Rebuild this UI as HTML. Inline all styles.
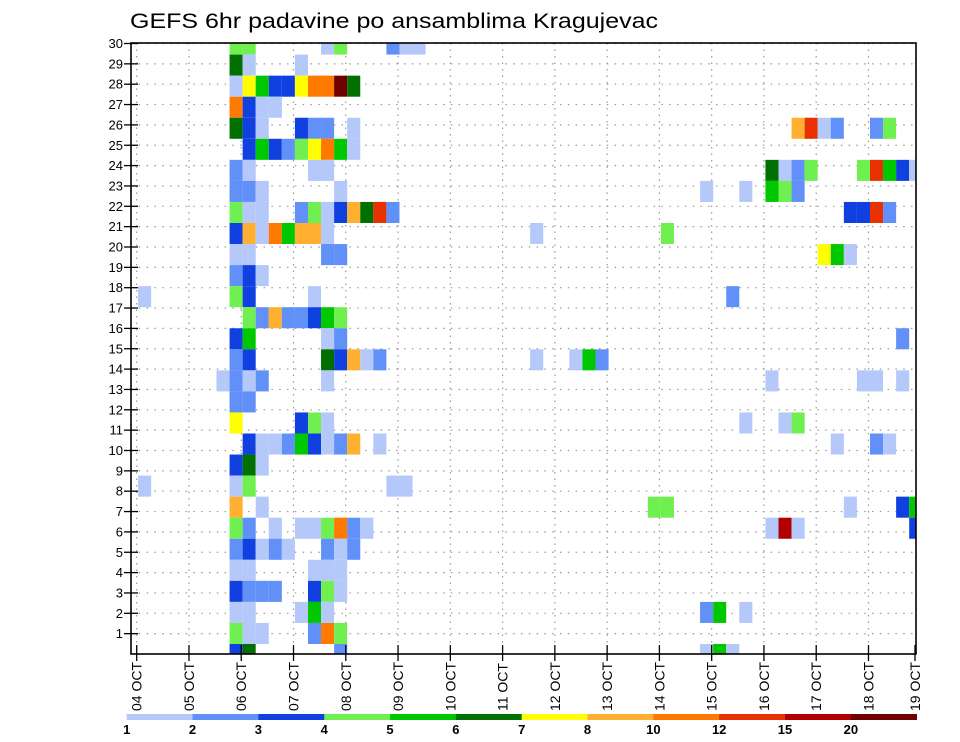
<!DOCTYPE html>
<html>
<head>
<meta charset="utf-8">
<style>
  html,body{margin:0;padding:0;background:#fff;}
  svg{display:block;font-family:"Liberation Sans",sans-serif;}
</style>
</head>
<body>
<svg id="chart" width="960" height="742" viewBox="0 0 960 742" xmlns="http://www.w3.org/2000/svg">
  <rect x="0" y="0" width="960" height="742" fill="#fff"/>
  <text x="130" y="28" font-size="21" textLength="528" lengthAdjust="spacingAndGlyphs" fill="#000">GEFS 6hr padavine po ansamblima Kragujevac</text>
  <defs><clipPath id="plotClip"><rect x="131" y="43" width="785" height="611"/></clipPath></defs>
  <g id="grid"></g>
  <g id="cells" clip-path="url(#plotClip)"></g>
  <g id="axes"></g>
  <g id="legend"></g>
</svg>
<script>
// ---- data ----
const dayLabels = ["04 OCT","05 OCT","06 OCT","07 OCT","08 OCT","09 OCT","10 OCT","11 OCT","12 OCT","13 OCT","14 OCT","15 OCT","16 OCT","17 OCT","18 OCT","19 OCT"];
const memberLabels = [1,2,3,4,5,6,7,8,9,10,11,12,13,14,15,16,17,18,19,20,21,22,23,24,25,26,27,28,29,30];
const levelValues = [1,2,3,4,5,6,7,8,10,12,15,20];
const levelColors = ["#b4c8fa","#6090f8","#1040e0","#70f050","#00c800","#007000","#ffff00","#ffb030","#ff7800","#e83000","#b00000","#700000"];

// each cell: ensemble band (0 = bottom), 6-hour step index, precipitation mm
const cellBand = [
 29,29,29,29,29,29,29,
 28,28,28,
 27,27,27,27,27,27,27,27,27,27,
 26,26,26,26,
 25,25,25,25,25,25,25,25,25,25,25,25,25,
 24,24,24,24,24,24,24,24,24,
 23,23,23,23,23,23,23,23,23,23,23,23,23,
 22,22,22,22,22,22,22,22,22,
 21,21,21,21,21,21,21,21,21,21,21,21,21,21,21,
 20,20,20,20,20,20,20,20,20,20,
 19,19,19,19,19,19,19,
 18,18,18,
 17,17,17,17,17,
 16,16,16,16,16,16,16,16,
 15,15,15,15,15,
 14,14,14,14,14,14,14,14,14,14,14,
 13,13,13,13,13,13,13,13,13,
 12,12,
 11,11,11,11,11,11,11,
 10,10,10,10,10,10,10,10,10,10,10,10,10,
 9,9,9,
 8,8,8,8,8,
 7,7,7,7,7,7,7,
 6,6,6,6,6,6,6,6,6,6,6,6,6,
 5,5,5,5,5,5,5,5,
 4,4,4,4,4,
 3,3,3,3,3,3,3,
 2,2,2,2,2,2,2,2,
 1,1,1,1,1,1,
 0,0,0,0,0,0
];
const cellStep = [
 8,9,15,16,20,21,22,
 8,9,13,
 8,9,10,11,12,13,14,15,16,17,
 8,9,10,11,
 8,9,10,13,14,15,17,51,52,53,54,57,58,
 9,10,11,12,13,14,15,16,17,
 8,9,14,15,49,50,51,52,56,57,58,59,60,
 8,9,10,16,44,47,49,50,51,
 8,9,10,13,14,15,16,17,18,19,20,55,56,57,58,
 8,9,10,11,12,13,14,15,31,41,
 8,9,15,16,53,54,55,
 8,9,10,
 1,8,9,14,46,
 9,10,11,12,13,14,15,16,
 8,9,15,16,59,
 8,9,15,16,17,18,19,31,34,35,36,
 7,8,9,10,15,49,56,57,59,
 8,9,
 8,13,14,15,47,50,51,
 9,10,11,12,13,14,15,16,17,19,54,57,58,
 8,9,10,
 1,8,9,20,21,
 8,10,40,41,55,59,60,
 8,9,11,13,14,15,16,17,18,49,50,51,60,
 8,9,10,11,12,15,16,17,
 8,9,14,15,16,
 8,9,10,11,14,15,16,
 8,9,13,14,15,44,45,47,
 8,9,10,14,15,16,
 8,9,16,44,45,46
];
const cellMm = [
 4.5,4.5,1.5,4.5,2.5,1.5,1.5,
 6.5,1.5,1.5,
 1.5,7.5,5.5,3.5,3.5,7.5,11,11,25,6.5,
 11,3.5,1.5,1.5,
 6.5,3.5,1.5,3.5,2.5,2.5,1.5,9,13.5,1.5,2.5,2.5,4.5,
 3.5,5.5,3.5,2.5,4.5,7.5,11,5.5,1.5,
 2.5,1.5,1.5,1.5,6.5,1.5,2.5,4.5,4.5,13.5,5.5,3.5,1.5,
 2.5,2.5,1.5,1.5,1.5,1.5,5.5,4.5,2.5,
 4.5,1.5,1.5,2.5,4.5,1.5,3.5,9,6.5,13.5,2.5,3.5,3.5,13.5,2.5,
 3.5,9,1.5,11,5.5,9,9,1.5,1.5,4.5,
 1.5,1.5,2.5,2.5,7.5,5.5,1.5,
 2.5,3.5,1.5,
 1.5,4.5,3.5,1.5,2.5,
 4.5,2.5,9,2.5,2.5,3.5,5.5,4.5,
 3.5,5.5,1.5,2.5,2.5,
 2.5,3.5,6.5,3.5,9,1.5,2.5,1.5,1.5,5.5,2.5,
 1.5,2.5,1.5,2.5,1.5,1.5,1.5,1.5,1.5,
 2.5,2.5,
 7.5,3.5,4.5,1.5,1.5,1.5,4.5,
 3.5,1.5,1.5,2.5,5.5,3.5,1.5,2.5,9,1.5,1.5,2.5,1.5,
 3.5,6.5,1.5,
 1.5,1.5,4.5,1.5,1.5,
 9,1.5,4.5,4.5,1.5,3.5,5.5,
 4.5,2.5,1.5,1.5,1.5,4.5,11,2.5,1.5,1.5,17,1.5,3.5,
 2.5,3.5,1.5,2.5,1.5,2.5,1.5,2.5,
 1.5,1.5,1.5,1.5,1.5,
 3.5,2.5,2.5,2.5,3.5,4.5,1.5,
 1.5,1.5,1.5,5.5,1.5,2.5,5.5,1.5,
 4.5,1.5,1.5,2.5,11,4.5,
 3.5,6.5,2.5,1.5,5.5,1.5
];

// ---- geometry / scales ----
const plotL = 131, plotR = 916, plotT = 43, plotB = 654;
const NS = "http://www.w3.org/2000/svg";
function dayX(d){ return Math.min(136.7 + d * 52.27, plotR - 1); }
function stepLeft(s){ return 125 + s * 13.07; }
const stepW = 13.07;
function bandTop(b){ return 644 - b * 21.05; }
const bandH = 21.05;
function memberY(k){ return plotB - k * 20.35; }
function colorFor(v){
  let idx = -1;
  for (let i = 0; i < levelValues.length; i++) if (v >= levelValues[i]) idx = i;
  return idx < 0 ? null : levelColors[idx];
}
function mk(tag, attrs, parent){
  const el = document.createElementNS(NS, tag);
  for (const k in attrs) el.setAttribute(k, attrs[k]);
  parent.appendChild(el);
  return el;
}

// ---- grid ----
const grid = document.getElementById('grid');
for (let k = 1; k <= 30; k++) {
  const y = memberY(k);
  const ln = mk('line', {x1: plotL, x2: plotR, y1: y, y2: y, stroke: '#999', 'stroke-width': 1.2, 'stroke-dasharray': '1.5 6.3'}, grid);
  
  
}
for (let d = 0; d < 15; d++) {
  const x = dayX(d);
  const ln = mk('line', {x1: x, x2: x, y1: plotT, y2: plotB, stroke: '#999', 'stroke-width': 1.2, 'stroke-dasharray': '1.5 5'}, grid);
  
  
}

// ---- cells ----
const cellsG = document.getElementById('cells');
for (let i = 0; i < cellMm.length; i++) {
  const c = colorFor(cellMm[i]);
  if (!c) continue;
  const r = mk('rect', {x: stepLeft(cellStep[i]), y: bandTop(cellBand[i]), width: stepW, height: bandH, fill: c}, cellsG);
  
  
}

// ---- axes ----
const axes = document.getElementById('axes');
mk('rect', {x: plotL, y: plotT, width: plotR - plotL, height: plotB - plotT, fill: 'none', stroke: '#000', 'stroke-width': 1.6}, axes);
for (let k = 0; k < memberLabels.length; k++) {
  const y = memberY(memberLabels[k]);
  mk('line', {x1: 124, x2: 138, y1: y, y2: y, stroke: '#000', 'stroke-width': 1.3}, axes);
  const t = mk('text', {x: 123, y: y + 4.5, 'font-size': 13, 'text-anchor': 'end', fill: '#000'}, axes);
  t.textContent = memberLabels[k];
  
  
}
for (let d = 0; d < dayLabels.length; d++) {
  const x = dayX(d);
  mk('line', {x1: x, x2: x, y1: 645, y2: 661, stroke: '#000', 'stroke-width': 1.3}, axes);
  const t = mk('text', {x: 0, y: 0, 'font-size': 14, 'text-anchor': 'start', fill: '#000', transform: 'translate(' + (x + 5) + ',711) rotate(-90)'}, axes);
  t.textContent = dayLabels[d];
  
  
}

// ---- legend ----
const legend = document.getElementById('legend');
const legL = 126.7, legR = 916.7, segW = (legR - legL) / levelColors.length;
for (let i = 0; i < levelColors.length; i++) {
  const r = mk('rect', {x: legL + i * segW, y: 714, width: segW + 0.3, height: 6, fill: levelColors[i]}, legend);
  
  
  const t = mk('text', {x: legL + i * segW, y: 734, 'font-size': 13, 'font-weight': 'bold', 'text-anchor': 'middle', fill: '#000'}, legend);
  t.textContent = levelValues[i];
  
  
}
</script>
</body>
</html>
